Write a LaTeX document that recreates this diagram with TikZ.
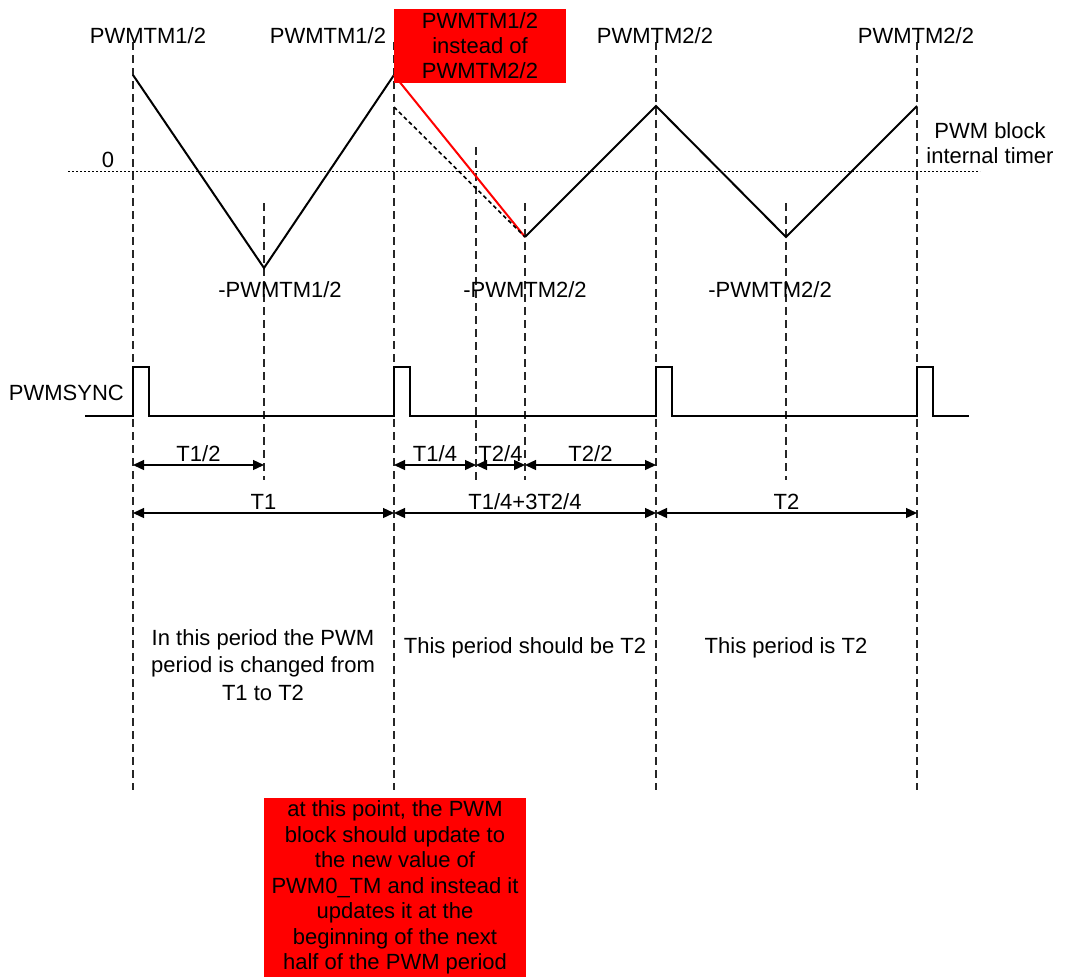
\documentclass[tikz,border=0pt]{standalone}
\usepackage{fontspec}
\setmainfont{Liberation Sans}
\usepackage{tikz}
\usetikzlibrary{arrows.meta, positioning}

\begin{document}
\begin{tikzpicture}[
    x=1pt, y=-1pt,
    every node/.style={font=\fontsize{22}{25}\selectfont, inner sep=1pt},
    guide/.style={dash pattern=on 8pt off 5pt, line width=1.1pt, black!85},
    zeroline/.style={dash pattern=on 2pt off 2pt, line width=1pt},
    wave/.style={line width=2pt},
    dim/.style={{Triangle[length=11pt,width=10pt]}-{Triangle[length=11pt,width=10pt]}, line width=1.3pt},
    redbox/.style={fill=red, align=center, inner sep=0pt}
  ]
  \useasboundingbox (0,0) rectangle (1065,978);

  % guide lines
  \foreach \gx in {133,394,656,917}
    \draw[guide] (\gx,42) -- (\gx,790);
  \foreach \gx/\gy in {264/203,476/147,525/203,786/203}
    \draw[guide] (\gx,\gy) -- (\gx,480);

  % zero line of the timer
  \draw[zeroline] (68,171) -- (980,171);
  \node (zero) at (108,160) {0};

  % timer waveform
  \coordinate (a0) at (133,75);
  \coordinate (a1) at (264,268);
  \coordinate (a2) at (394,75);
  \coordinate (a2b) at (394,107);
  \coordinate (a3) at (525,237);
  \coordinate (a4) at (656,106);
  \coordinate (a5) at (786,237);
  \coordinate (a6) at (917,106);
  \draw[wave] (a0) -- (a1) -- (a2);
  \draw[wave, red] (a2) -- (a3);
  \draw[line width=1.6pt, dash pattern=on 4pt off 3pt] (a2b) -- (a3);
  \draw[wave] (a3) -- (a4) -- (a5) -- (a6);

  \node (top0) at (148,36) {PWMTM1/2};
  \node (top1) at (328,36) {PWMTM1/2};
  \node (top2) at (655,36) {PWMTM2/2};
  \node (top3) at (916,36) {PWMTM2/2};
  \node[redbox, minimum width=172pt, minimum height=74pt] (wrong) at (480,46)
    {PWMTM1/2\\instead of\\PWMTM2/2};
  \node (bot0) at (280,290) {-PWMTM1/2};
  \node (bot1) at (525,290) {-PWMTM2/2};
  \node (bot2) at (770,290) {-PWMTM2/2};
  \node[align=center] (timer) at (990,143) {PWM block\\internal timer};

  % sync pulses
  \node[anchor=east] (sync) at (125,393) {PWMSYNC};
  \draw[wave] (85,416)
    \foreach \px in {133,394,656,917} { -- (\px,416) -- (\px,367) -- (\px+16,367) -- (\px+16,416) }
    -- (969,416);

  % time spans
  \foreach \n/\gx in {0/133,1/264,2/394,3/476,4/525,5/656,6/786,7/917} {
    \coordinate (s\n) at (\gx,465);
    \coordinate (l\n) at (\gx,513);
  }
  \draw[dim] (s0) -- node[above=2pt] {T1/2} (s1);
  \draw[dim] (s2) -- node[above=2pt] {T1/4} (s3);
  \draw[dim] (s3) -- node[above=2pt] {T2/4} (s4);
  \draw[dim] (s4) -- node[above=2pt] {T2/2} (s5);
  \draw[dim] (l0) -- node[above=2pt] {T1} (l2);
  \draw[dim] (l2) -- node[above=2pt] {T1/4+3T2/4} (l5);
  \draw[dim] (l5) -- node[above=2pt] {T2} (l7);

  % notes
  \node[align=center, font=\fontsize{22}{27.5}\selectfont] (note0) at (263,665)
    {In this period the PWM\\period is changed from\\T1 to T2};
  \node (note1) at (525,648) {This period should be T2};
  \node (note2) at (786,648) {This period is T2};
  \node[redbox, font=\fontsize{22}{25.5}\selectfont, minimum width=262pt, minimum height=179pt] (update) at (395,887.5)
    {at this point, the PWM\\block should update to\\the new value of\\PWM0\_TM and instead it\\updates it at the\\beginning of the next\\half of the PWM period};
\end{tikzpicture}
\end{document}
